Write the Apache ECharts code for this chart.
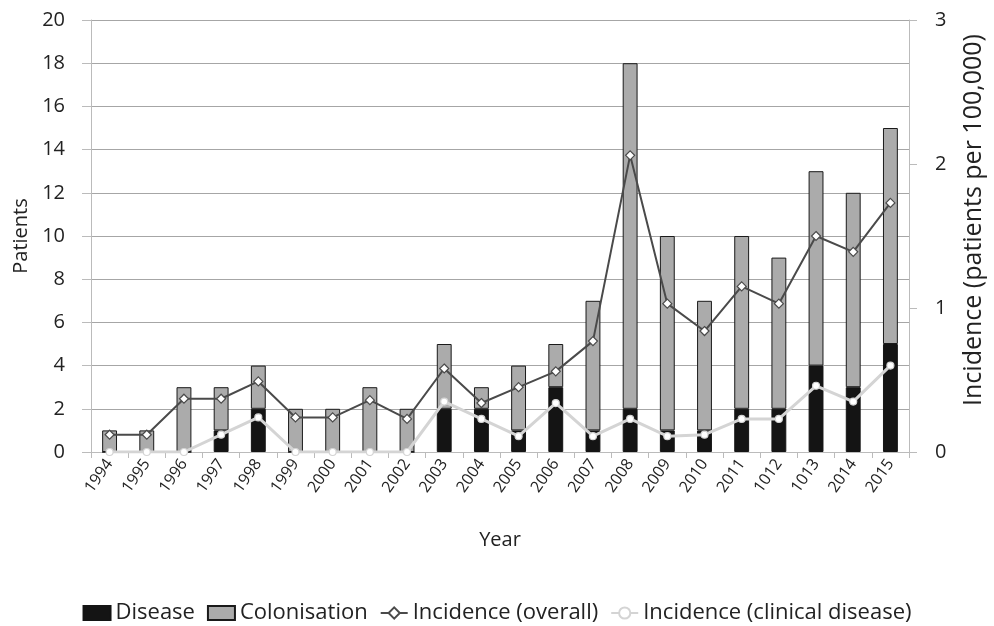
<!DOCTYPE html>
<html>
<head>
<meta charset="utf-8">
<script src="https://cdn.jsdelivr.net/npm/echarts@6/dist/echarts.min.js"></script>
<style>html,body{margin:0;padding:0;background:#fff}#c{width:994px;height:626px}</style>
</head>
<body>
<div id="c"></div>
<script>
const years = ['1994','1995','1996','1997','1998','1999','2000','2001','2002','2003','2004','2005','2006','2007','2008','2009','2010','2011','1012','1013','2014','2015'];
const disease = [0,0,0,1,2,0,0,0,0,2,2,1,3,1,2,1,1,2,2,4,3,5];
const colonisation = [1,1,3,2,2,2,2,3,2,3,1,3,2,6,16,9,6,8,7,9,9,10];
const incidenceOverall = [0.12,0.12,0.37,0.37,0.49,0.24,0.24,0.36,0.23,0.58,0.34,0.45,0.56,0.77,2.06,1.03,0.84,1.15,1.03,1.50,1.39,1.73];
const incidenceClinical = [0,0,0,0.12,0.24,0,0,0,0,0.35,0.23,0.11,0.34,0.11,0.23,0.11,0.12,0.23,0.23,0.46,0.35,0.60];

const FONT = '"Open Sans", "Noto Sans", sans-serif';
const chart = echarts.init(document.getElementById('c'), null, {renderer:'canvas'});
chart.setOption({
  animation: false,
  backgroundColor: '#fff',
  textStyle: {fontFamily: FONT, color: '#222'},
  grid: {left: 91, right: 85, top: 20, bottom: 174, containLabel: false},
  legend: {
    top: 597, left: 'center', itemGap: 12, itemWidth: 27, itemHeight: 14,
    textStyle: {fontFamily: FONT, fontSize: 22, color: '#222'},
    data: [
      {name: 'Disease', icon: 'rect'},
      {name: 'Colonisation', icon: 'rect'},
      {name: 'Incidence (overall)'},
      {name: 'Incidence (clinical disease)'}
    ]
  },
  xAxis: {
    type: 'category', data: years, boundaryGap: true,
    name: 'Year', nameLocation: 'middle', nameGap: 78,
    nameTextStyle: {fontFamily: FONT, fontSize: 20, color: '#222'},
    axisLine: {lineStyle: {color: '#bbb', width: 1}},
    axisTick: {show: true, alignWithLabel: false, length: 6, lineStyle: {color: '#bbb'}},
    axisLabel: {rotate: 55, fontSize: 16, color: '#222', margin: 9, interval: 0}
  },
  yAxis: [{
    type: 'value', min: 0, max: 20, interval: 2,
    name: 'Patients', nameLocation: 'middle', nameGap: 52, nameRotate: 90,
    nameTextStyle: {fontFamily: FONT, fontSize: 20, color: '#222'},
    axisLine: {show: true, lineStyle: {color: '#bbb'}},
    axisTick: {show: true, length: 9, lineStyle: {color: '#bbb'}},
    axisLabel: {fontSize: 20, color: '#222', margin: 26},
    splitLine: {show: true, lineStyle: {color: '#a6a6a6', width: 1}}
  }, {
    type: 'value', min: 0, max: 3, interval: 1, position: 'right',
    name: 'Incidence (patients per 100,000)', nameLocation: 'middle', nameGap: 52, nameRotate: 90,
    nameTextStyle: {fontFamily: FONT, fontSize: 25, color: '#222', padding: [0, 0, 0, 32]},
    axisLine: {show: true, lineStyle: {color: '#bbb'}},
    axisTick: {show: true, length: 8, lineStyle: {color: '#bbb'}},
    axisLabel: {fontSize: 20, color: '#222', margin: 26},
    splitLine: {show: false}
  }],
  series: [{
    name: 'Disease', type: 'bar', stack: 'p', data: disease, barWidth: '40%',
    itemStyle: {color: '#141414', borderColor: '#141414', borderWidth: 1}
  }, {
    name: 'Colonisation', type: 'bar', stack: 'p', data: colonisation, barWidth: '40%',
    itemStyle: {color: '#ababab', borderColor: '#1a1a1a', borderWidth: 1}
  }, {
    name: 'Incidence (overall)', type: 'line', yAxisIndex: 1, data: incidenceOverall,
    symbol: 'diamond', symbolSize: 9,
    lineStyle: {color: '#4a4a4a', width: 2},
    itemStyle: {color: '#ffffff', borderColor: '#4a4a4a', borderWidth: 1.2},
    z: 5
  }, {
    name: 'Incidence (clinical disease)', type: 'line', yAxisIndex: 1, data: incidenceClinical,
    symbol: 'circle', symbolSize: 7,
    lineStyle: {color: '#d4d4d4', width: 3},
    itemStyle: {color: '#ffffff', borderColor: '#d4d4d4', borderWidth: 1.2},
    z: 4
  }]
});
</script>
</body>
</html>
